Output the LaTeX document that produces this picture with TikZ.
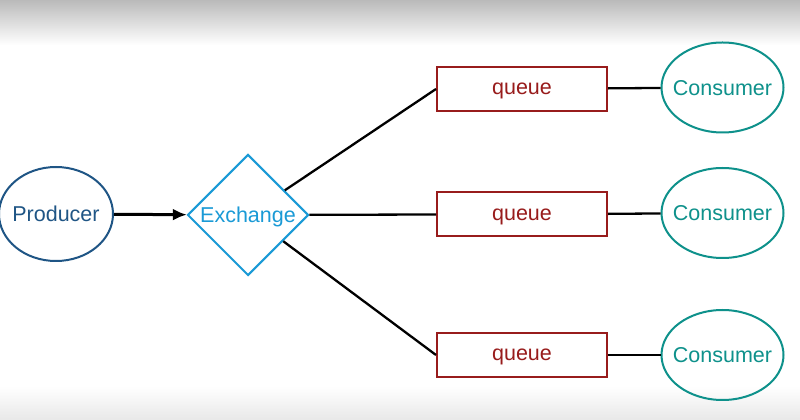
\documentclass[tikz,border=0pt]{standalone}
\usepackage{fontspec}
\setmainfont{Liberation Sans}
\usetikzlibrary{shapes.geometric,arrows.meta}
\definecolor{prodblue}{HTML}{1F5585}
\definecolor{exblue}{HTML}{1A9AD6}
\definecolor{qred}{HTML}{981C1C}
\definecolor{consteal}{HTML}{0E918B}
\begin{document}
\begin{tikzpicture}[x=1pt,y=1pt,
  lbl/.style={font=\fontsize{21.5}{25}\selectfont,text depth=0pt},
  prodnode/.style={lbl,ellipse,draw=prodblue,text=prodblue,line width=2pt,inner ysep=0pt,inner xsep=-12pt,minimum width=114pt,minimum height=94pt},
  exnode/.style={lbl,diamond,draw=exblue,text=exblue,line width=2pt,inner sep=0pt,minimum width=121pt,minimum height=121pt},
  qnode/.style={lbl,rectangle,draw=qred,text=qred,line width=2pt,inner sep=0pt,minimum width=170pt,minimum height=44pt},
  consnode/.style={lbl,ellipse,draw=consteal,text=consteal,line width=2pt,inner ysep=0pt,inner xsep=-15pt,minimum width=122pt,minimum height=90pt},
  link/.style={line width=2.3pt,black},
  feed/.style={line width=3pt,black,-{Latex[length=14pt,width=12pt]}}
]
\fill[white] (0,0) rectangle (800,420);
\shade[top color=black!27,bottom color=white] (0,375) rectangle (800,420);
\shade[top color=white,bottom color=black!9] (0,0) rectangle (800,34);
\useasboundingbox (0,0) rectangle (800,420);

\node[prodnode] (prod) at (56,206) {Producer};
\node[exnode] (ex) at (248,205) {Exchange};

\node[qnode] (q1) at (522,331) {queue};
\node[qnode] (q2) at (522,205.5) {queue};
\node[qnode] (q3) at (522,65) {queue};

\node[consnode] (c1) at (722.5,332.5) {Consumer};
\node[consnode] (c2) at (722.5,207) {Consumer};
\node[consnode] (c3) at (722.5,65) {Consumer};

\draw[feed] (prod) -- (ex);
\draw[link] (ex) -- (q1.west);
\draw[link] (ex) -- (q2.west);
\draw[link] (ex) -- (q3.west);
\draw[link] (q1) -- (c1);
\draw[link] (q2) -- (c2);
\draw[link] (q3) -- (c3);
\end{tikzpicture}
\end{document}
